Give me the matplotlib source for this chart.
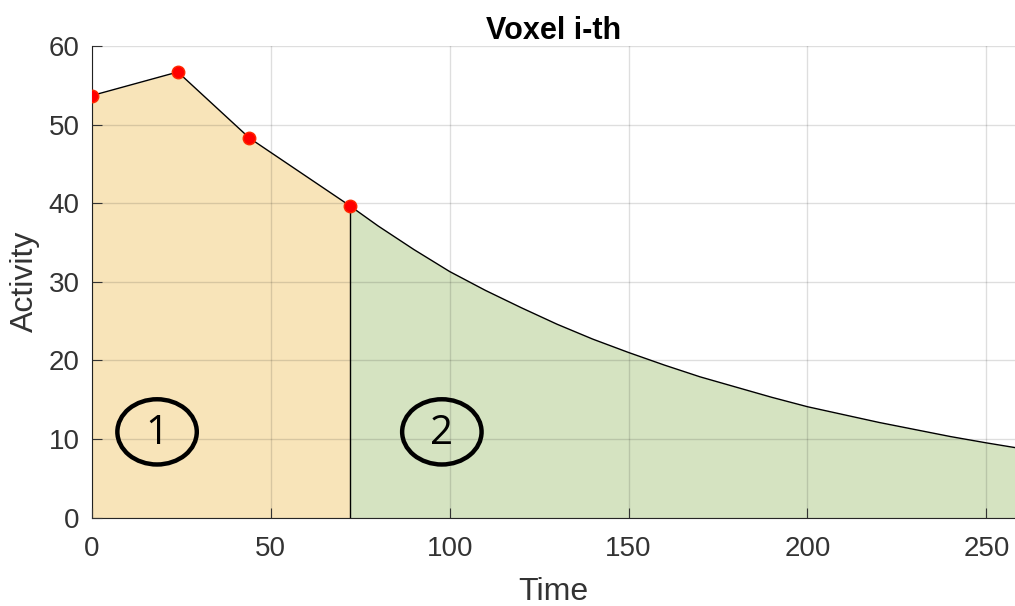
import numpy as np
import matplotlib.pyplot as plt
from matplotlib.patches import Ellipse

# sampled frames (red markers)
frame_t = [0, 24, 44, 72]
frame_act = [53.7, 56.7, 48.3, 39.7]

# fitted tail
tail_t = [72, 80, 90, 100, 110, 120, 130, 140, 150, 160, 170, 180, 190,
          200, 210, 220, 230, 240, 250, 258]
tail_act = [39.7, 37.1, 34.1, 31.3, 28.9, 26.7, 24.6, 22.7, 21.0, 19.4, 17.9,
            16.6, 15.3, 14.1, 13.1, 12.1, 11.2, 10.3, 9.5, 8.9]

region_labels = ['1', '2']
region_x = [18.2, 97.8]
region_y = [10.9, 10.9]

plt.rcParams['font.family'] = ['Liberation Sans', 'DejaVu Sans']

fig = plt.figure(figsize=(10.15, 6.06), dpi=100)
ax = fig.add_axes([0.0906, 0.146, 0.9094, 0.778])

ax.fill_between(frame_t, frame_act, 0, color='#f8e4b9', lw=0, zorder=1)
ax.fill_between(tail_t, tail_act, 0, color='#d5e3c1', lw=0, zorder=1)
ax.plot(frame_t + tail_t[1:], frame_act + tail_act[1:], color='black', lw=1, zorder=3)
ax.plot([frame_t[-1], frame_t[-1]], [0, frame_act[-1]], color='black', lw=1, zorder=3)
ax.plot(frame_t, frame_act, 'o', color='red', ms=9, mec='#ff2a00', zorder=4)

for lab, x, y in zip(region_labels, region_x, region_y):
    ax.add_patch(Ellipse((x, y), 22.2, 8.3, fill=False, ec='black', lw=3.2, zorder=5))
    ax.text(x, y - 0.2, lab, ha='center', va='center', fontsize=29,
            family=['Open Sans', 'DejaVu Sans'], zorder=6)

ax.set_xlim(0, 258)
ax.set_ylim(0, 60)
ax.set_xticks([0, 50, 100, 150, 200, 250])
ax.set_yticks([0, 10, 20, 30, 40, 50, 60])
ax.grid(True, color='#000000', alpha=0.13, lw=1, zorder=2)
ax.set_axisbelow(False)
for s in ['top', 'right']:
    ax.spines[s].set_visible(False)
for s in ['left', 'bottom']:
    ax.spines[s].set_color('#262626')
ax.tick_params(direction='in', length=7, labelsize=20, colors='#333333')
ax.tick_params(axis='x', pad=13)
ax.tick_params(axis='y', pad=9)
ax.set_xlabel('Time', fontsize=23, color='#333333', labelpad=11)
ax.set_ylabel('Activity', fontsize=23, color='#333333', labelpad=6)
ax.set_title('Voxel i-th', fontsize=22, fontweight='bold', pad=3)

fig.savefig('out.png', dpi=100)
